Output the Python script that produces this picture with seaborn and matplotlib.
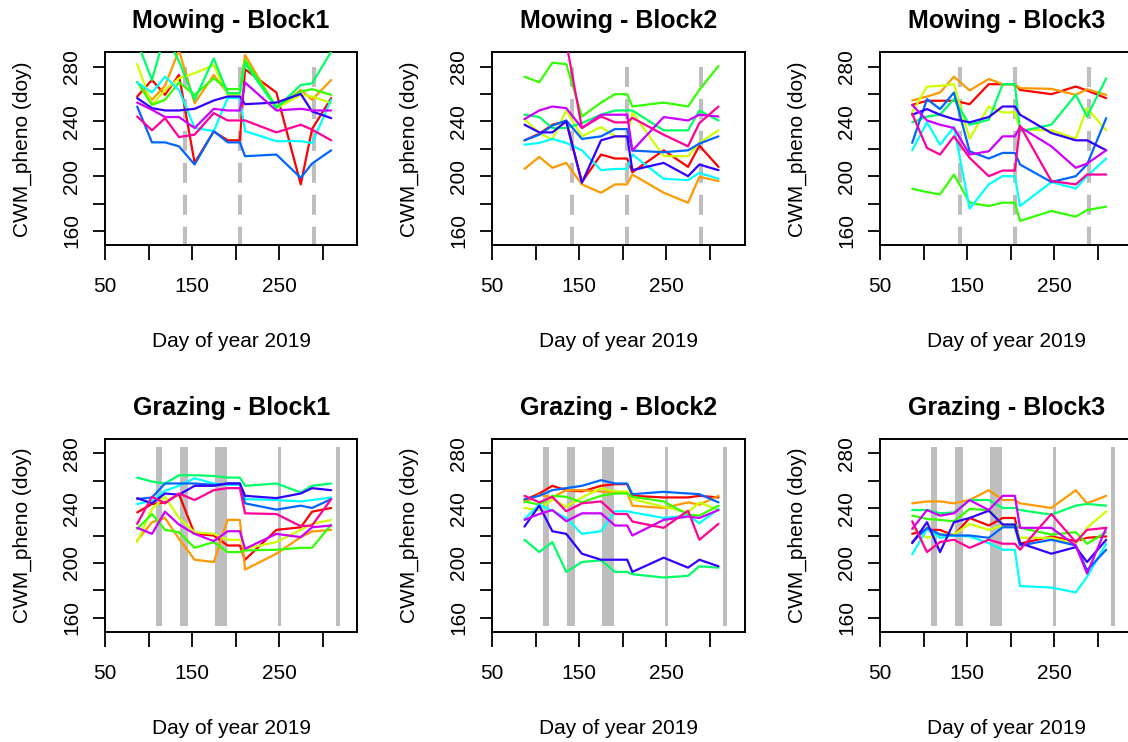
import numpy as np
import pandas as pd
import matplotlib
matplotlib.use("Agg")
import matplotlib.pyplot as plt
import seaborn as sns

sns.set_style("white")
plt.rcParams["font.family"] = ["Liberation Sans", "DejaVu Sans"]
plt.rcParams["lines.scale_dashes"] = False
plt.rcParams["text.color"] = "black"
plt.rcParams["axes.labelcolor"] = "black"
plt.rcParams["xtick.color"] = "black"
plt.rcParams["ytick.color"] = "black"

# ---------------- data ----------------
days = [87, 104, 119, 135, 153, 175, 191, 205, 211, 247, 275, 288, 310]
plots = ["P01", "P02", "P03", "P04", "P05", "P06", "P07", "P08", "P09", "P10"]
colors = ["#FF0000", "#FF9900", "#CCFF00", "#33FF00", "#00FF66",
          "#00FFFF", "#0066FF", "#3300FF", "#CC00FF", "#FF0099"]

mowing_block1 = [
    [258.2, 270.3, 259.4, 274.0, 209.7, 232.7, 226.2, 226.2, 278.1, 261.1, 194.0, 234.4, 257.0],
    [268.9, 255.8, 266.1, 292.0, 253.3, 273.9, 260.6, 260.6, 288.5, 249.7, 263.0, 255.8, 270.3],
    [281.9, 252.1, 263.0, 271.5, 275.2, 281.2, 259.4, 259.4, 284.9, 249.7, 259.4, 258.2, 253.3],
    [268.9, 252.1, 255.8, 268.5, 259.4, 271.5, 263.6, 263.6, 284.9, 250.9, 261.8, 263.6, 259.4],
    [298.0, 270.3, 304.0, 284.0, 255.8, 286.0, 260.6, 260.6, 282.4, 249.7, 266.6, 267.8, 291.0],
    [268.4, 261.1, 272.7, 263.0, 235.3, 232.9, 257.1, 257.1, 232.9, 225.6, 225.6, 224.1, 255.8],
    [250.9, 224.7, 224.7, 221.8, 208.5, 232.9, 224.7, 224.7, 214.6, 215.8, 198.8, 209.2, 218.9],
    [257.0, 249.7, 248.0, 248.0, 249.2, 255.3, 258.2, 258.2, 252.6, 253.8, 260.1, 247.3, 242.4],
    [253.8, 248.5, 243.2, 243.2, 235.2, 249.2, 248.0, 248.0, 268.4, 248.0, 249.2, 248.0, 248.0],
    [243.6, 233.5, 242.4, 228.6, 230.3, 246.1, 240.7, 240.7, 240.7, 232.0, 237.6, 234.0, 226.2],
]
mowing_block2 = [
    [226.2, 231.0, 237.6, 240.0, 195.7, 215.8, 212.9, 212.9, 202.9, 218.9, 206.8, 222.3, 206.8],
    [205.3, 214.1, 206.1, 209.7, 194.0, 187.9, 194.0, 194.0, 201.2, 187.9, 180.6, 199.5, 196.4],
    [241.7, 231.5, 226.7, 248.0, 229.1, 235.9, 229.1, 229.1, 246.6, 214.6, 214.6, 224.3, 233.5],
    [272.7, 268.6, 282.9, 281.9, 243.6, 253.8, 259.9, 259.9, 250.9, 253.8, 250.9, 263.0, 280.5],
    [244.9, 243.2, 235.2, 235.2, 238.8, 244.9, 248.0, 248.0, 248.0, 233.5, 233.5, 248.0, 240.7],
    [223.0, 224.3, 227.2, 224.3, 218.9, 204.4, 205.3, 205.3, 215.8, 198.1, 197.1, 202.4, 198.1],
    [226.2, 230.3, 236.9, 240.7, 227.2, 229.1, 234.4, 234.4, 218.7, 217.5, 218.9, 223.8, 229.1],
    [237.6, 232.0, 232.0, 240.0, 195.2, 226.2, 229.1, 229.1, 204.4, 209.7, 200.0, 208.5, 204.4],
    [241.7, 248.0, 250.9, 249.7, 235.2, 244.9, 244.9, 244.9, 218.7, 243.2, 240.7, 244.9, 243.6],
    [300.0, 300.0, 300.0, 298.0, 235.2, 243.6, 239.3, 239.3, 242.6, 230.3, 221.8, 238.8, 250.9],
]
mowing_block3 = [
    [252.1, 255.1, 255.1, 255.1, 252.6, 267.2, 267.2, 267.2, 263.0, 259.9, 265.5, 262.6, 257.0],
    [255.3, 258.2, 261.1, 272.7, 262.6, 271.0, 267.2, 267.2, 264.3, 263.8, 259.4, 263.5, 259.4],
    [246.6, 265.5, 266.0, 267.2, 227.4, 250.9, 246.6, 246.6, 234.0, 233.5, 227.4, 249.7, 233.5],
    [190.8, 188.4, 186.7, 201.2, 180.6, 178.2, 180.6, 180.6, 167.3, 174.6, 170.4, 175.3, 177.7],
    [239.3, 243.6, 244.9, 256.3, 237.6, 241.2, 267.2, 267.2, 232.7, 237.6, 259.4, 243.6, 271.5],
    [218.9, 239.3, 223.0, 235.9, 176.3, 194.0, 200.0, 200.0, 178.2, 195.7, 191.0, 200.0, 212.9],
    [224.3, 256.3, 249.0, 261.1, 218.2, 212.9, 217.0, 217.0, 208.5, 195.7, 200.0, 208.5, 242.4],
    [244.9, 249.0, 244.9, 241.7, 239.3, 243.2, 250.9, 250.9, 244.9, 231.5, 226.2, 226.2, 218.9],
    [252.1, 240.7, 237.6, 235.2, 215.8, 218.2, 229.1, 229.1, 235.9, 221.8, 206.1, 209.2, 218.9],
    [245.6, 220.6, 215.8, 229.1, 213.4, 200.0, 204.1, 204.1, 236.9, 196.4, 194.0, 201.2, 201.2],
]
grazing_block1 = [
    [236.9, 243.0, 244.2, 250.2, 221.2, 220.0, 212.7, 212.7, 202.3, 224.1, 226.0, 237.4, 240.1],
    [216.4, 229.7, 232.8, 217.6, 202.3, 200.6, 231.4, 231.4, 195.1, 206.7, 218.8, 222.9, 224.1],
    [215.2, 239.4, 248.3, 232.8, 222.4, 221.2, 216.9, 216.9, 210.3, 215.2, 224.1, 228.5, 231.4],
    [224.8, 235.7, 224.1, 222.4, 211.0, 215.2, 207.9, 207.9, 209.1, 209.6, 211.0, 211.0, 228.0],
    [262.3, 259.4, 258.0, 264.0, 264.0, 263.5, 262.3, 262.3, 256.3, 258.0, 251.4, 256.3, 258.0],
    [243.0, 245.4, 252.7, 256.3, 261.8, 258.0, 257.0, 257.0, 246.6, 245.9, 244.9, 245.9, 247.8],
    [246.6, 247.8, 258.0, 258.0, 258.0, 257.0, 258.0, 258.0, 243.5, 238.9, 241.8, 240.1, 246.6],
    [247.3, 243.5, 250.7, 249.8, 256.3, 256.3, 258.0, 258.0, 249.0, 247.3, 250.7, 254.6, 253.1],
    [225.6, 221.2, 237.4, 228.0, 221.2, 215.9, 223.1, 223.1, 210.3, 221.2, 218.8, 226.0, 227.3],
    [228.5, 248.3, 243.5, 250.7, 245.9, 253.1, 254.6, 254.6, 236.2, 235.7, 226.8, 227.3, 246.6],
]
grazing_block2 = [
    [245.9, 250.7, 256.3, 253.1, 252.2, 256.3, 257.5, 257.5, 249.0, 247.8, 247.8, 249.0, 247.8],
    [244.2, 249.8, 247.8, 253.1, 253.1, 252.2, 251.4, 251.4, 241.8, 240.1, 244.2, 242.5, 249.0],
    [240.1, 238.6, 246.6, 241.0, 247.8, 254.6, 252.2, 252.2, 246.6, 241.0, 236.9, 244.2, 238.6],
    [244.9, 242.5, 249.0, 248.3, 244.2, 249.0, 250.7, 250.7, 248.3, 244.9, 235.2, 234.5, 241.8],
    [216.9, 207.9, 215.2, 193.4, 200.6, 201.9, 193.4, 193.4, 191.7, 189.3, 190.5, 197.5, 196.5],
    [232.1, 242.5, 238.1, 232.8, 221.2, 223.1, 237.7, 237.7, 236.9, 232.8, 234.5, 228.9, 239.4],
    [246.6, 249.0, 253.1, 254.6, 256.3, 260.4, 258.0, 258.0, 250.2, 251.9, 250.7, 250.2, 244.2],
    [226.5, 241.8, 223.1, 221.2, 206.7, 202.3, 202.3, 202.3, 193.4, 203.8, 196.5, 202.3, 197.5],
    [231.4, 235.7, 238.6, 230.4, 236.2, 236.2, 227.3, 227.3, 220.0, 231.4, 233.8, 232.8, 238.6],
    [249.0, 244.2, 248.3, 237.7, 243.5, 244.9, 235.7, 235.7, 230.2, 225.6, 238.1, 216.9, 228.5],
]
grazing_block3 = [
    [221.2, 224.1, 224.1, 220.0, 232.8, 227.3, 232.8, 232.8, 214.0, 219.3, 215.9, 218.3, 219.3],
    [243.5, 244.9, 244.9, 243.5, 245.9, 253.1, 245.9, 245.9, 243.5, 240.1, 253.1, 243.5, 249.0],
    [225.6, 218.3, 220.7, 220.7, 228.5, 224.1, 227.3, 227.3, 218.3, 218.3, 214.0, 225.6, 237.7],
    [234.5, 232.1, 231.4, 230.4, 239.4, 238.6, 228.0, 228.0, 225.6, 220.7, 222.4, 214.0, 222.4],
    [238.6, 238.6, 236.2, 236.9, 245.9, 245.9, 240.1, 240.1, 238.6, 235.2, 241.8, 243.0, 241.8],
    [206.2, 224.8, 218.3, 220.0, 219.3, 214.4, 209.6, 209.6, 183.0, 182.0, 178.4, 189.8, 214.0],
    [215.2, 225.6, 220.7, 220.0, 220.0, 218.3, 226.0, 226.0, 212.7, 216.9, 212.7, 194.6, 209.6],
    [214.4, 229.7, 207.9, 229.7, 232.8, 238.1, 228.0, 228.0, 214.4, 206.7, 211.5, 200.6, 216.9],
    [224.8, 238.6, 234.5, 236.2, 245.9, 238.6, 249.0, 249.0, 225.6, 225.6, 212.7, 192.2, 225.6],
    [230.4, 207.9, 215.2, 216.9, 211.0, 216.9, 214.0, 214.0, 209.6, 235.7, 215.2, 224.1, 225.6],
]

mowing_dates = [142, 205, 290]
grazing_starts = [108.5, 136, 176.5, 248.5, 315]
grazing_ends = [115.5, 145, 190, 252.5, 320]

titles = ["Mowing - Block1", "Mowing - Block2", "Mowing - Block3",
          "Grazing - Block1", "Grazing - Block2", "Grazing - Block3"]
panels = [mowing_block1, mowing_block2, mowing_block3,
          grazing_block1, grazing_block2, grazing_block3]

xticks = [50, 100, 150, 200, 250, 300]
xticklabels = ["50", "", "150", "", "250", ""]
yticks = [160, 180, 200, 220, 240, 260, 280]
yticklabels = ["160", "", "200", "", "240", "", "280"]

# ---------------- figure ----------------
W, H = 1128, 742
fig = plt.figure(figsize=(W / 100, H / 100), dpi=100)
lefts = [105, 492.3, 880]
tops = [52.3, 439]
aw, ah = 252.3, 193

for i, (title, values) in enumerate(zip(titles, panels)):
    r, c = divmod(i, 3)
    l, t = lefts[c], tops[r]
    ax = fig.add_axes([l / W, 1 - (t + ah) / H, aw / W, ah / H])

    if r == 0:
        for d in mowing_dates:
            ax.plot([d, d], [280, 140], color="#BEBEBE", lw=2.9,
                    dashes=(14.4, 8.6), zorder=1, solid_capstyle="butt",
                    dash_capstyle="butt")
    else:
        for s, e in zip(grazing_starts, grazing_ends):
            ax.fill_between([s, e], 154, 285, color="#BEBEBE", lw=0, zorder=1)

    df = pd.DataFrame({
        "day": np.tile(days, len(plots)),
        "plot": np.repeat(plots, len(days)),
        "value": np.concatenate(values),
    })
    sns.lineplot(data=df, x="day", y="value", hue="plot", hue_order=plots,
                 palette=colors, estimator=None, sort=False, legend=False,
                 lw=1.6, ax=ax, zorder=3)

    ax.set_xlim(50, 340)
    ax.set_ylim(149.5, 290.5)
    ax.set_xticks(xticks)
    ax.set_xticklabels(xticklabels)
    ax.set_yticks(yticks)
    ax.set_yticklabels(yticklabels)
    ax.tick_params(axis="x", direction="out", length=10.8, width=1.3,
                   pad=12, labelsize=15, colors="black", bottom=True)
    ax.tick_params(axis="y", direction="out", length=8.3, width=1.3,
                   pad=9, labelsize=15, colors="black", left=True)
    for lbl in ax.get_yticklabels():
        lbl.set_rotation(90)
        lbl.set_va("center")
    for sp in ax.spines.values():
        sp.set_visible(True)
        sp.set_color("black")
        sp.set_linewidth(1.4)
    ax.set_xlabel("")
    ax.set_ylabel("")
    ax.text(0.5, 1 + 24 / ah, title, transform=ax.transAxes, ha="center",
            va="baseline", fontsize=18, fontweight="bold", color="black")
    ax.text(0.5, -(341 - 245) / ah, "Day of year 2019", transform=ax.transAxes,
            ha="center", va="center", fontsize=15, color="black")
    ax.text(-(105 - 22.5) / aw, 0.5, "CWM_pheno (doy)", transform=ax.transAxes,
            rotation=90, ha="center", va="center", fontsize=15, color="black")

fig.savefig("out.png", dpi=100)
